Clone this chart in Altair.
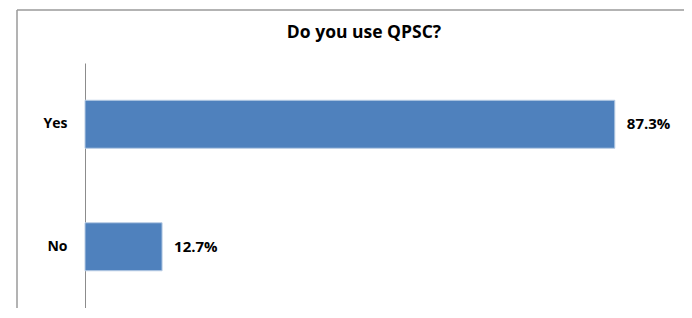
import altair as alt
import pandas as pd

title_text = "Do you use QPSC?"
categories = ["Yes", "No"]
values = [87.3, 12.7]
labels = ["87.3%", "12.7%"]

df = pd.DataFrame({"answer": categories, "pct": values, "label": labels})
tdf = pd.DataFrame({"t": [title_text]})

base = alt.Chart(df).encode(
    y=alt.Y("answer:N", sort=categories,
            scale=alt.Scale(paddingInner=0, paddingOuter=0),
            axis=alt.Axis(title=None, ticks=False, domainColor="#8c8c8c",
                          labelFont="Open Sans", labelFontSize=14, labelFontWeight="bold",
                          labelColor="#000000", labelPadding=18)),
    x=alt.X("pct:Q", scale=alt.Scale(domain=[0, 98.7]), axis=None),
)

bars = base.mark_bar(size=48, color="#4F81BD", stroke="#b8cce4", strokeWidth=1)
text = base.mark_text(align="left", dx=12, font="Open Sans", fontSize=15,
                      fontWeight="bold", color="#000000").encode(text="label:N")

top_edge = alt.Chart(tdf).mark_rule(color="#9a9a9a", strokeWidth=1.5, clip=False).encode(
    x=alt.value(-68), x2=alt.value(620), y=alt.value(-53)
)
left_edge = alt.Chart(tdf).mark_rule(color="#9a9a9a", strokeWidth=1.5, clip=False).encode(
    x=alt.value(-68), y=alt.value(-53), y2=alt.value(260)
)
title = alt.Chart(tdf).mark_text(font="Open Sans", fontSize=17.5, fontWeight="bold",
                                 color="#000000", align="center", baseline="middle",
                                 clip=False).encode(
    text="t:N", x=alt.value(279), y=alt.value(-30)
)

chart = alt.layer(top_edge, left_edge, bars, text, title).properties(
    width=599, height=245,
    autosize=alt.AutoSizeParams(type="none"),
    padding={"left": 77, "top": 55, "right": 0, "bottom": 0},
).configure(background="white").configure_view(stroke=None)

chart.save("out.html", embed_options={"renderer": "svg", "actions": False})
